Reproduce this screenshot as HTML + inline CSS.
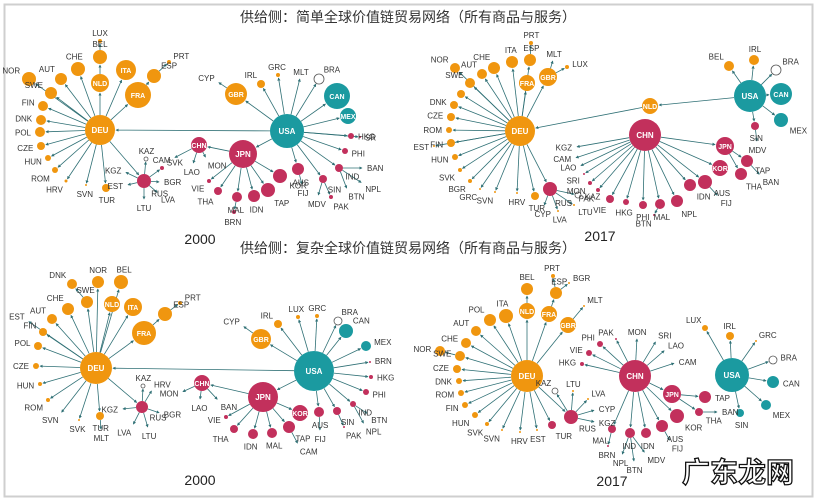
<!DOCTYPE html><html><head><meta charset="utf-8"><style>
body{margin:0;background:#fff;width:817px;height:502px;overflow:hidden}
svg{display:block}
text{font-family:"Liberation Sans","Noto Sans CJK SC",sans-serif}
</style></head><body>
<svg id="s" width="817" height="502" viewBox="0 0 817 502" xmlns="http://www.w3.org/2000/svg">
<defs><marker id="a" viewBox="0 0 6 6" refX="5" refY="3" markerWidth="4" markerHeight="4" orient="auto"><path d="M0,0L6,3L0,6z" fill="#2f7075"/></marker></defs>
<rect x="4.5" y="4.5" width="808" height="492" fill="none" stroke="#cfcfcf" stroke-width="2"/>
<text x="408" y="22" font-size="14" text-anchor="middle" fill="#333">供给侧：简单全球价值链贸易网络（所有商品与服务）</text>
<text x="408" y="253" font-size="14" text-anchor="middle" fill="#333">供给侧：复杂全球价值链贸易网络（所有商品与服务）</text>
<text x="200" y="244" font-size="14" text-anchor="middle" fill="#222">2000</text>
<text x="600" y="241" font-size="14" text-anchor="middle" fill="#222">2017</text>
<text x="200" y="485" font-size="14" text-anchor="middle" fill="#222">2000</text>
<text x="612" y="486" font-size="14" text-anchor="middle" fill="#222">2017</text>
<text x="682" y="482" font-size="28" font-weight="bold" fill="#fff" stroke="#111" stroke-width="1.3">广东龙网</text>
<g id="g"></g>
</svg>
<script>
const O='#f0960f',C='#c2305c',T='#1b9aa0',W='W';
const P=[
[["DEU",100,130,15,O,"USA"],["LUX",100,41,2,O,"BEL"],["BEL",100,57,7,O,"NLD"],["NLD",100,83,9,O,"DEU"],["ITA",126,70,10,O,"DEU"],["FRA",138,95,13,O,"DEU"],["ESP",154,76,7,O,"FRA"],["PRT",169,62,2,O,"ESP"],["CHE",78,69,7,O,"DEU"],["AUT",61,79,6,O,"DEU"],["NOR",29,79,7,O,"DEU"],["SWE",51,93,6,O,"DEU"],["FIN",43,106,5,O,"DEU"],["DNK",41,120,5,O,"DEU"],["POL",40,132,5,O,"DEU"],["CZE",41,146,4,O,"DEU"],["HUN",48,158,3,O,"DEU"],["ROM",55,170,3,O,"DEU"],["HRV",66,181,1.5,O,"DEU"],["SVN",86,185,1,O,"DEU"],["TUR",106,188,4,O,"DEU"],["RUS",144,181,7,C,"DEU"],["KAZ",146,159,2,W,"RUS"],["SVK",162,168,2,C,"RUS"],["BGR",160,182,0,C,"RUS"],["LVA",158,193,0,C,"RUS"],["LTU",144,200,0,C,"RUS"],["EST",127,185,0,C,"RUS"],["KGZ",125,172,0,C,"RUS"],
["USA",287,131,17,T,null],["GBR",236,94,11,O,"USA"],["CYP",218,82,0,O,"GBR"],["IRL",261,84,4,O,"USA"],["GRC",278,75,2,O,"USA"],["MLT",300,78,0,O,"USA"],["BRA",319,79,5,W,"USA"],["CAN",337,96,13,T,"USA"],["MEX",348,116,8,T,"USA"],["SR",360,137,1,C,"USA"],["HKG",351,136,3,C,"USA"],["PHI",345,151,3,C,"USA"],["IND",339,168,4,C,"USA"],["BAN",363,168,0,C,"IND"],["NPL",362,183,0,C,"IND"],["BTN",347,189,0,C,"IND"],["SIN",323,179,4,C,"USA"],["MDV",318,196,0,C,"SIN"],["PAK",331,197,2,C,"SIN"],["AUS",298,169,6,C,"USA"],["FIJ",302,185,0,C,"AUS"],["KOR",280,176,7,C,"JPN"],["JPN",243,154,14,C,"USA"],["TAP",268,190,7,C,"JPN"],["IDN",254,196,6,C,"JPN"],["MAL",237,197,5,C,"JPN"],["BRN",234,212,2,C,"MAL"],["THA",218,191,4,C,"JPN"],["VIE",209,181,2,C,"JPN"],["CHN",199,145,8,C,"JPN"],["CAM",174,158,0,C,"CHN"],["LAO",193,164,0,C,"CHN"],["MON",206,158,0,C,"CHN"]],
[["DEU",520,131,15,O,"NLD"],["PRT",531,43,2,O,"ESP"],["ESP",530,60,6,O,"DEU"],["ITA",512,62,6,O,"DEU"],["MLT",553,60,0,O,"GBR"],["GBR",548,77,9,O,"DEU"],["LUX",567,67,2,O,"GBR"],["FRA",527,83,8,O,"DEU"],["CHE",494,68,6,O,"DEU"],["AUT",482,74,5,O,"DEU"],["NOR",455,68,5,O,"DEU"],["SWE",470,83,5,O,"DEU"],["",461,94,4,O,"DEU"],["DNK",454,105,4,O,"DEU"],["CZE",451,117,4,O,"DEU"],["ROM",449,130,3,O,"DEU"],["FIN",451,143,4,O,"DEU"],["EST",434,146,1,O,"DEU"],["HUN",455,157,3,O,"DEU"],["SVK",460,170,2,O,"DEU"],["BGR",470,181,2,O,"DEU"],["GRC",480,189,1,O,"DEU"],["SVN",495,192,1,O,"DEU"],["HRV",517,193,1,O,"DEU"],["TUR",535,196,4,O,"DEU"],["RUS",550,189,7,C,"DEU"],["CYP",544,206,0,C,"RUS"],["LVA",558,211,1,O,"RUS"],["LTU",574,205,1,O,"RUS"],["KAZ",578,195,3,W,"RUS"],
["NLD",650,106,8,O,"USA"],["USA",750,96,16,T,null],["BEL",729,66,5,O,"USA"],["IRL",754,60,5,O,"USA"],["BRA",776,70,5,W,"USA"],["CAN",781,94,11,T,"USA"],["MEX",781,120,7,T,"USA"],["SIN",755,126,4,C,"USA"],["MDV",757,142,0,C,"SIN"],
["CHN",645,135,16,C,null],["KGZ",576,147,0,C,"CHN"],["CAM",575,158,0,C,"CHN"],["LAO",580,166,0,C,"CHN"],["SRI",584,174,1,C,"CHN"],["MON",590,183,2,C,"CHN"],["PAK",598,190,2,C,"CHN"],["VIE",610,199,4,C,"CHN"],["HKG",626,202,3,C,"CHN"],["PHI",643,205,4,C,"CHN"],["MAL",660,204,5,C,"CHN"],["BTN",654,215,1,C,"MAL"],["NPL",677,201,6,C,"CHN"],["IDN",690,185,6,C,"CHN"],["AUS",705,182,7,C,"CHN"],["FIJ",718,196,0,C,"AUS"],["KOR",720,168,8,C,"CHN"],["JPN",725,146,9,C,"CHN"],["TAP",747,161,6,C,"JPN"],["BAN",760,175,0,C,"TAP"],["THA",741,174,6,C,"JPN"]],
[["DEU",96,368,16,O,"USA"],["DNK",72,284,5,O,"SWE"],["NOR",98,282,6,O,"DEU"],["BEL",121,282,7,O,"DEU"],["SWE",87,302,6,O,"DEU"],["NLD",112,304,8,O,"DEU"],["CHE",68,309,6,O,"DEU"],["ITA",133,307,9,O,"DEU"],["AUT",52,319,5,O,"DEU"],["ESP",165,314,7,O,"FRA"],["PRT",180,303,2,O,"ESP"],["FRA",144,333,12,O,"DEU"],["EST",28,321,0,O,"DEU"],["FIN",43,332,4,O,"DEU"],["POL",38,346,4,O,"DEU"],["CZE",36,366,3,O,"DEU"],["HUN",40,384,2,O,"DEU"],["ROM",48,400,2,O,"DEU"],["SVN",61,413,0,O,"DEU"],["SVK",79,420,1,O,"DEU"],["TUR",100,416,4,O,"DEU"],["MLT",101,430,0,O,"TUR"],["RUS",142,407,6,C,"DEU"],["KAZ",143,386,2,W,"RUS"],["HRV",152,390,0,C,"RUS"],["KGZ",122,409,0,C,"RUS"],["BGR",160,413,0,C,"RUS"],["LVA",133,425,0,C,"RUS"],["LTU",148,428,0,C,"RUS"],
["USA",314,371,20,T,null],["GBR",261,339,10,O,"USA"],["CYP",243,326,0,O,"GBR"],["IRL",278,324,4,O,"USA"],["LUX",298,317,2,O,"USA"],["GRC",317,316,2,O,"USA"],["BRA",338,321,4,W,"USA"],["CAN",346,331,7,T,"USA"],["MEX",366,346,5,T,"USA"],["BRN",370,362,1,C,"USA"],["HKG",371,377,2,C,"USA"],["PHI",366,392,3,C,"USA"],["IND",353,404,3,C,"USA"],["BTN",368,414,0,C,"IND"],["NPL",364,424,0,C,"IND"],["SIN",337,411,4,C,"USA"],["PAK",344,427,1,C,"SIN"],["AUS",319,412,5,C,"USA"],["FIJ",320,431,0,C,"AUS"],["KOR",300,413,8,C,"JPN"],["JPN",263,397,15,C,"USA"],["TAP",289,427,6,C,"JPN"],["CAM",298,444,0,C,"TAP"],["MAL",272,433,5,C,"JPN"],["IDN",253,434,5,C,"JPN"],["THA",234,429,4,C,"JPN"],["VIE",226,417,2,C,"JPN"],["CHN",202,383,8,C,"JPN"],["MON",182,392,0,C,"CHN"],["LAO",200,400,0,C,"CHN"],["BAN",218,400,0,C,"CHN"]],
[["DEU",527,376,16,O,null],["PRT",553,276,2,O,"ESP"],["BGR",569,283,1,O,"ESP"],["ESP",556,293,6,O,"FRA"],["BEL",527,289,6,O,"NLD"],["NLD",527,311,8,O,"DEU"],["FRA",549,314,8,O,"DEU"],["ITA",506,316,7,O,"DEU"],["POL",490,320,6,O,"DEU"],["GBR",568,325,8,O,"DEU"],["MLT",584,306,1,O,"GBR"],["AUT",476,331,5,O,"DEU"],["CHE",466,343,5,O,"DEU"],["NOR",440,351,5,O,"SWE"],["SWE",460,356,5,O,"DEU"],["CZE",457,369,4,O,"DEU"],["DNK",459,381,3,O,"DEU"],["ROM",461,393,3,O,"DEU"],["FIN",465,405,3,O,"DEU"],["HUN",475,415,3,O,"DEU"],["SVK",487,424,2,O,"DEU"],["SVN",502,430,1,O,"DEU"],["HRV",520,432,1,O,"DEU"],["EST",537,430,1,O,"DEU"],["TUR",552,425,4,C,"DEU"],["RUS",571,417,7,C,"DEU"],["KAZ",555,391,3,W,"RUS"],["LTU",573,391,1,O,"RUS"],["LVA",588,399,1,O,"RUS"],["CYP",595,410,0,C,"RUS"],["KGZ",595,422,0,C,"RUS"],
["CHN",635,376,16,C,null],["PHI",600,344,3,C,"CHN"],["PAK",616,339,1,C,"CHN"],["MON",637,338,0,C,"CHN"],["SRI",656,341,0,C,"CHN"],["LAO",665,350,0,C,"CHN"],["CAM",675,363,0,C,"CHN"],["VIE",589,353,3,C,"CHN"],["HKG",582,364,2,C,"CHN"],["JPN",672,394,9,C,"CHN"],["TAP",705,397,6,C,"JPN"],["KOR",677,416,7,C,"CHN"],["THA",699,412,4,C,"JPN"],["BAN",718,412,0,C,"THA"],["AUS",662,426,6,C,"CHN"],["FIJ",670,441,0,C,"AUS"],["IDN",646,433,5,C,"CHN"],["IND",630,433,5,C,"CHN"],["NPL",622,455,0,C,"IND"],["BTN",634,462,0,C,"IND"],["MDV",645,453,0,C,"IND"],["MAL",612,429,4,C,"CHN"],["BRN",608,446,1,C,"MAL"],
["USA",732,375,17,T,null],["LUX",705,328,3,O,"USA"],["IRL",730,336,4,O,"USA"],["GRC",756,341,1,O,"USA"],["BRA",773,360,4,W,"USA"],["CAN",773,382,6,T,"USA"],["MEX",766,405,5,T,"USA"],["SIN",740,413,4,T,"USA"]]
];
let e='',c='',t='';
for(const L of P){const m={};L.forEach(n=>m[n[0]]=n);
 L.forEach(n=>{const[nm,x,y,r,col,p]=n;
  if(p&&m[p]){const q=m[p];const dx=x-q[1],dy=y-q[2],d=Math.hypot(dx,dy)||1,ux=dx/d,uy=dy/d;
   e+=`<line x1="${(q[1]+ux*q[3]).toFixed(1)}" y1="${(q[2]+uy*q[3]).toFixed(1)}" x2="${(x-ux*(r+1)).toFixed(1)}" y2="${(y-uy*(r+1)).toFixed(1)}" stroke="#2f7075" stroke-width="0.8" marker-end="url(#a)"/>`;
   if(!(r>=8&&nm)&&nm){const lx=x+ux*(r+4),ly=y+uy*(r+4)+3;const an=ux>0.35?'start':ux<-0.35?'end':'middle';
    t+=`<text x="${lx.toFixed(1)}" y="${(uy<-0.5?ly-2:uy>0.5?ly+4:ly).toFixed(1)}" font-size="8" fill="#333" text-anchor="${an}">${nm}</text>`;}}
  if(r>0)c+=col==='W'?`<circle cx="${x}" cy="${y}" r="${r}" fill="#fff" stroke="#555" stroke-width="0.8"/>`:`<circle cx="${x}" cy="${y}" r="${r}" fill="${col}"/>`;
  if(r>=8&&nm)t+=`<text x="${x}" y="${y+3}" font-size="${r>=14?8:7}" fill="#fff" text-anchor="middle" font-weight="bold">${nm}</text>`;
  else if(!p&&nm)t+=`<text x="${x}" y="${y+3}" font-size="7" fill="#fff" text-anchor="middle">${nm}</text>`;
 });}
document.getElementById('g').innerHTML=e+c+t;
</script>
</body></html>
